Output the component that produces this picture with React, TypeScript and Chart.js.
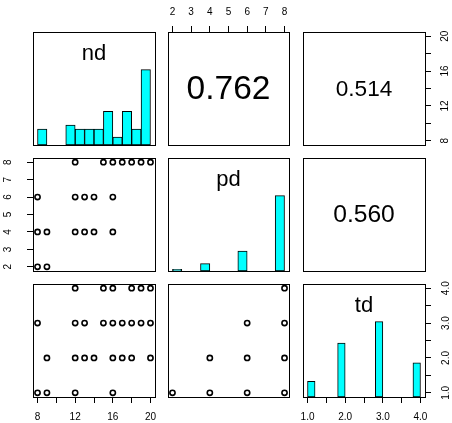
import React, { useEffect, useRef } from "react";
import { Chart, registerables } from "chart.js";

Chart.register(...registerables);

const W = 452;
const H = 423;
const FONT = "'Liberation Sans', Arial, Helvetica, sans-serif";

// ---- data ----
const varNames = ["nd", "pd", "td"];

const ndRange = [8, 20];
const pdRange = [2, 8];
const tdRange = [1, 4];

// histogram breaks and counts
const ndBreaks = [8, 9, 10, 11, 12, 13, 14, 15, 16, 17, 18, 19, 20];
const ndCounts = [8, 0, 0, 10, 8, 8, 8, 17, 4, 17, 8, 38];
const pdBreaks = [2, 2.5, 3, 3.5, 4, 4.5, 5, 5.5, 6, 6.5, 7, 7.5, 8];
const pdCounts = [2, 0, 0, 9, 0, 0, 0, 24, 0, 0, 0, 91];
const tdBreaks = [1, 1.2, 1.4, 1.6, 1.8, 2, 2.2, 2.4, 2.6, 2.8, 3, 3.2, 3.4, 3.6, 3.8, 4];
const tdCounts = [11, 0, 0, 0, 38, 0, 0, 0, 0, 53, 0, 0, 0, 0, 24];

// scatter: nd vs pd
const ndPd_nd = [12, 15, 16, 17, 18, 19, 20, 8, 12, 13, 14, 16, 8, 9, 12, 13, 14, 16, 8, 9];
const ndPd_pd = [8, 8, 8, 8, 8, 8, 8, 6, 6, 6, 6, 6, 4, 4, 4, 4, 4, 4, 2, 2];
// scatter: nd vs td
const ndTd_nd = [12, 15, 16, 18, 19, 20, 8, 12, 13, 15, 16, 17, 18, 19, 20, 9, 12, 13, 14, 16, 17, 18, 20, 8, 9, 12, 16];
const ndTd_td = [4, 4, 4, 4, 4, 4, 3, 3, 3, 3, 3, 3, 3, 3, 3, 2, 2, 2, 2, 2, 2, 2, 2, 1, 1, 1, 1];
// scatter: pd vs td
const pdTd_pd = [8, 6, 8, 4, 6, 8, 2, 4, 6, 8];
const pdTd_td = [4, 3, 3, 2, 2, 2, 1, 1, 1, 1];

// correlations
const corNdPd = 0.762;
const corNdTd = 0.514;
const corPdTd = 0.56;

// axis ticks
const ndTicks = [8, 10, 12, 14, 16, 18, 20];
const ndTickLabels = [8, 12, 16, 20];
const pdTicks = [2, 3, 4, 5, 6, 7, 8];
const pdTickLabels = [2, 3, 4, 5, 6, 7, 8];
const tdTicks = [1, 1.5, 2, 2.5, 3, 3.5, 4];
const tdTickLabels = [1, 2, 3, 4];

// ---- layout ----
const COLS = [
  [33, 155],
  [168, 289],
  [303, 425],
];
const ROWS = [
  [32, 145],
  [158, 271],
  [284, 397],
];
const AX: Record<string, number> = { top: 32, bottom: 26, left: 33, right: 27 };
const COR_SCALE = 44;

const ext = (r: number[]) => {
  const d = (r[1] - r[0]) * 0.04;
  return [r[0] - d, r[1] + d];
};

type AxisSpec = {
  pos: "top" | "bottom" | "left" | "right";
  range: number[];
  ticks: number[];
  labels: number[];
  fmt: (v: number) => string;
  pad: number;
};

function makeAxis(a: AxisSpec) {
  const horiz = a.pos === "top" || a.pos === "bottom";
  const [min, max] = ext(a.range);
  return {
    type: "linear",
    axis: horiz ? "x" : "y",
    position: a.pos,
    min,
    max,
    offset: false,
    display: true,
    afterBuildTicks: (s: any) => {
      s.ticks = a.ticks.map((v) => ({ value: v }));
    },
    afterFit: (s: any) => {
      if (horiz) s.height = AX[a.pos];
      else s.width = AX[a.pos];
    },
    grid: {
      display: true,
      drawOnChartArea: false,
      drawTicks: true,
      tickLength: 6,
      tickWidth: 1,
      tickColor: "#000",
      color: "#000",
      offset: false,
    },
    border: { display: false },
    ticks: {
      autoSkip: false,
      padding: a.pad,
      color: "#000",
      font: { family: FONT, size: 10, lineHeight: 1.2 },
      callback: (v: number) => (a.labels.some((l) => Math.abs(l - v) < 1e-9) ? a.fmt(v) : ""),
      minRotation: horiz ? 0 : 90,
      maxRotation: horiz ? 0 : 90,
      crossAlign: horiz ? "near" : "center",
      align: "center",
    },
  };
}

function hiddenScale(axis: "x" | "y", range: number[], ticks: number[]) {
  return {
    type: "linear",
    axis,
    display: false,
    offset: false,
    min: range[0],
    max: range[1],
    afterBuildTicks: (s: any) => {
      s.ticks = ticks.map((v) => ({ value: v }));
    },
  };
}

const decoPlugin = {
  id: "panelDeco",
  beforeDatasetsDraw(chart: any) {
    const { ctx, chartArea: a } = chart;
    ctx.save();
    ctx.strokeStyle = "#000";
    ctx.lineWidth = 1;
    ctx.strokeRect(a.left + 0.5, a.top + 0.5, a.right - a.left, a.bottom - a.top);
    ctx.restore();
  },
  afterDraw(chart: any, _args: any, opts: any) {
    const { ctx, chartArea: a } = chart;
    if (!opts || !opts.text) return;
    ctx.save();
    ctx.fillStyle = "#000";
    ctx.textAlign = "center";
    const cx = (a.left + a.right) / 2;
    ctx.font = `${opts.size}px ${FONT}`;
    if (opts.kind === "label") {
      ctx.textBaseline = "alphabetic";
      ctx.fillText(opts.text, cx, a.top + opts.baseline);
    } else {
      ctx.textBaseline = "middle";
      ctx.fillText(opts.text, cx, (a.top + a.bottom) / 2 + 1);
    }
    ctx.restore();
  },
};

type PanelSpec = {
  row: number;
  col: number;
  kind: "hist" | "scatter" | "cor";
  xRange: number[];
  yRange: number[];
  xs?: number[];
  ys?: number[];
  breaks?: number[];
  counts?: number[];
  label?: string;
  r?: number;
  axes: AxisSpec[];
};

const fmtInt = (v: number) => String(v);
const fmt1 = (v: number) => v.toFixed(1);

const panels: PanelSpec[] = [
  { row: 0, col: 0, kind: "hist", xRange: ndRange, yRange: ndRange, breaks: ndBreaks, counts: ndCounts, label: varNames[0], axes: [] },
  {
    row: 0, col: 1, kind: "cor", xRange: pdRange, yRange: ndRange, r: corNdPd,
    axes: [{ pos: "top", range: pdRange, ticks: pdTicks, labels: pdTickLabels, fmt: fmtInt, pad: 7.5 }],
  },
  {
    row: 0, col: 2, kind: "cor", xRange: tdRange, yRange: ndRange, r: corNdTd,
    axes: [{ pos: "right", range: ndRange, ticks: ndTicks, labels: ndTickLabels, fmt: fmtInt, pad: 9 }],
  },
  {
    row: 1, col: 0, kind: "scatter", xRange: ndRange, yRange: pdRange, xs: ndPd_nd, ys: ndPd_pd,
    axes: [{ pos: "left", range: pdRange, ticks: pdTicks, labels: pdTickLabels, fmt: fmtInt, pad: 16 }],
  },
  { row: 1, col: 1, kind: "hist", xRange: pdRange, yRange: pdRange, breaks: pdBreaks, counts: pdCounts, label: varNames[1], axes: [] },
  { row: 1, col: 2, kind: "cor", xRange: tdRange, yRange: pdRange, r: corPdTd, axes: [] },
  {
    row: 2, col: 0, kind: "scatter", xRange: ndRange, yRange: tdRange, xs: ndTd_nd, ys: ndTd_td,
    axes: [{ pos: "bottom", range: ndRange, ticks: ndTicks, labels: ndTickLabels, fmt: fmtInt, pad: 8.5 }],
  },
  { row: 2, col: 1, kind: "scatter", xRange: pdRange, yRange: tdRange, xs: pdTd_pd, ys: pdTd_td, axes: [] },
  {
    row: 2, col: 2, kind: "hist", xRange: tdRange, yRange: tdRange, breaks: tdBreaks, counts: tdCounts, label: varNames[2],
    axes: [
      { pos: "bottom", range: tdRange, ticks: tdTicks, labels: tdTickLabels, fmt: fmt1, pad: 8.5 },
      { pos: "right", range: tdRange, ticks: tdTicks, labels: tdTickLabels, fmt: fmt1, pad: 8 },
    ],
  },
];

function buildConfig(p: PanelSpec): any {
  const [cl, cr] = COLS[p.col];
  const [rt, rb] = ROWS[p.row];
  const has = (pos: string) => p.axes.some((a) => a.pos === pos);
  const padding = {
    left: cl - (has("left") ? AX.left : 0),
    top: rt - (has("top") ? AX.top : 0),
    right: W - cr - (has("right") ? AX.right : 0),
    bottom: H - rb - (has("bottom") ? AX.bottom : 0),
  };

  const scales: any = {};
  const datasets: any[] = [];
  let deco: any = {};

  if (p.kind === "hist") {
    const b = p.breaks!;
    const c = p.counts!;
    const maxC = Math.max(...c);
    scales.x = hiddenScale("x", ext(p.xRange), b);
    scales.y = hiddenScale("y", [0, 1.5], [0, 0.5, 1, 1.5]);
    datasets.push({
      type: "bar",
      data: c.map((n, i) => ({ x: (b[i] + b[i + 1]) / 2, y: n / maxC })),
      backgroundColor: "#00FFFF",
      borderColor: "#000000",
      borderWidth: 1,
      borderSkipped: false,
      barPercentage: 1,
      categoryPercentage: 1,
      xAxisID: "x",
      yAxisID: "y",
    });
    deco = { kind: "label", text: p.label, size: 22, baseline: 27.5 };
  } else {
    scales.x = hiddenScale("x", ext(p.xRange), [p.xRange[0], p.xRange[1]]);
    scales.y = hiddenScale("y", ext(p.yRange), [p.yRange[0], p.yRange[1]]);
    if (p.kind === "scatter") {
      datasets.push({
        type: "scatter",
        data: p.xs!.map((x, i) => ({ x, y: p.ys![i] })),
        pointStyle: "circle",
        pointRadius: 2.6,
        pointBorderWidth: 1.6,
        borderColor: "#000000",
        backgroundColor: "rgba(0,0,0,0)",
        showLine: false,
        xAxisID: "x",
        yAxisID: "y",
      });
    } else {
      const r = p.r!;
      deco = { kind: "cor", text: r.toFixed(3), size: COR_SCALE * r };
    }
  }

  p.axes.forEach((a) => {
    scales["ax_" + a.pos] = makeAxis(a);
  });

  return {
    type: "scatter",
    data: { datasets },
    options: {
      responsive: false,
      animation: false,
      events: [],
      layout: { padding },
      scales,
      plugins: {
        legend: { display: false },
        tooltip: { enabled: false },
        title: { display: false },
        panelDeco: deco,
      },
    },
    plugins: [decoPlugin],
  };
}

export default function App() {
  const refs = useRef<(HTMLCanvasElement | null)[]>([]);

  useEffect(() => {
    const charts: Chart[] = [];
    panels.forEach((p, i) => {
      const cv = refs.current[i];
      if (!cv) return;
      charts.push(new Chart(cv, buildConfig(p)));
    });
    return () => charts.forEach((c) => c.destroy());
  }, []);

  return (
    <div style={{ position: "absolute", left: 0, top: 0, width: W, height: H, background: "#fff" }}>
      {panels.map((_, i) => (
        <canvas
          key={i}
          ref={(el) => {
            refs.current[i] = el;
          }}
          width={W}
          height={H}
          style={{ position: "absolute", left: 0, top: 0, width: W, height: H }}
        />
      ))}
    </div>
  );
}
